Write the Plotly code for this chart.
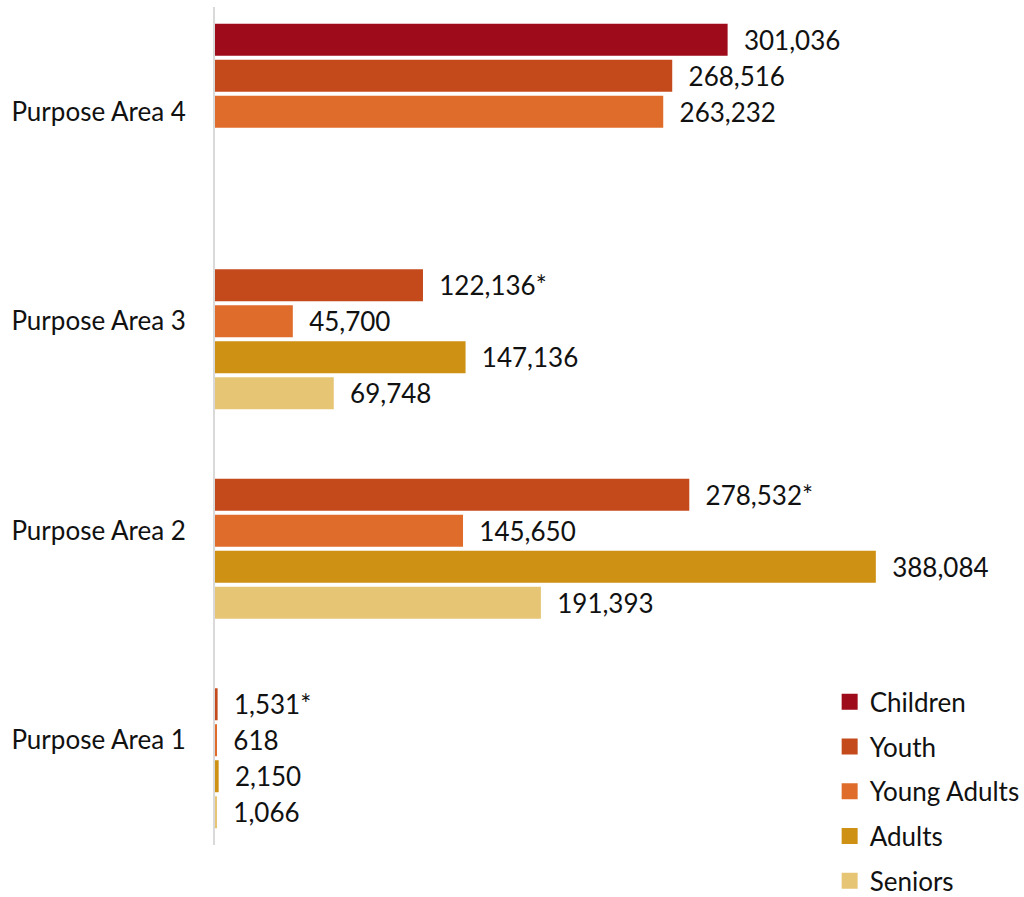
import plotly.graph_objects as go

# Categories, top to bottom
areas = ["Purpose Area 4", "Purpose Area 3", "Purpose Area 2", "Purpose Area 1"]

# Values per age group (None = not reported for that area)
children = [301036, None, None, None]
youth = [268516, 122136, 278532, 1531]
young_adults = [263232, 45700, 145650, 618]
adults = [None, 147136, 388084, 2150]
seniors = [None, 69748, 191393, 1066]

# Footnote markers appended to some labels
youth_marks = ["", "*", "*", "*"]

series = [
    ("Children", children, "#9E0B1A", None),
    ("Youth", youth, "#C44A1C", youth_marks),
    ("Young Adults", young_adults, "#E06C2B", None),
    ("Adults", adults, "#CE9114", None),
    ("Seniors", seniors, "#E6C675", None),
]

FONT = "Lato"
FSIZE = 26
PAD = "\u00a0\u00a0"

fig = go.Figure()
for i, (name, vals, color, marks) in enumerate(series):
    labels = []
    for j, v in enumerate(vals):
        if v is None:
            labels.append("")
        else:
            suffix = marks[j] if marks else ""
            labels.append(f"{PAD}{v:,}{suffix}")
    fig.add_trace(go.Bar(
        name=name,
        y=areas,
        x=vals,
        orientation="h",
        marker=dict(color=color, line=dict(width=0)),
        text=labels,
        textposition="outside",
        textfont=dict(family=FONT, size=FSIZE, color="#111111"),
        constraintext="none",
        cliponaxis=False,
        legendgroup=name,
        showlegend=False,
        hoverinfo="skip",
    ))
    # legend entry with a larger square swatch
    fig.add_trace(go.Scatter(
        name=name,
        x=[None],
        y=[None],
        mode="markers",
        marker=dict(symbol="square", size=16, color=color),
        legendgroup=name,
        legendrank=i,
        showlegend=True,
    ))

fig.update_layout(
    width=1024,
    height=897,
    margin=dict(l=215, r=24, t=7, b=52, autoexpand=False),
    barmode="group",
    bargap=0.141,
    bargroupgap=0.111,
    plot_bgcolor="white",
    paper_bgcolor="white",
    font=dict(family=FONT, size=FSIZE, color="#111111"),
    xaxis=dict(visible=False, range=[0, 461000], fixedrange=True),
    yaxis=dict(
        categoryorder="array",
        categoryarray=areas,
        autorange="reversed",
        showline=True,
        linecolor="#D9D9D9",
        linewidth=2,
        showgrid=False,
        zeroline=False,
        ticks="",
        ticklabelstandoff=22,
        tickfont=dict(family=FONT, size=FSIZE, color="#111111"),
    ),
    legend=dict(
        x=0.783,
        y=0.199,
        xanchor="left",
        yanchor="top",
        font=dict(family=FONT, size=FSIZE, color="#111111"),
        tracegroupgap=8,
        itemsizing="trace",
        bgcolor="rgba(0,0,0,0)",
    ),
    showlegend=True,
)

fig.write_html("out.html")
